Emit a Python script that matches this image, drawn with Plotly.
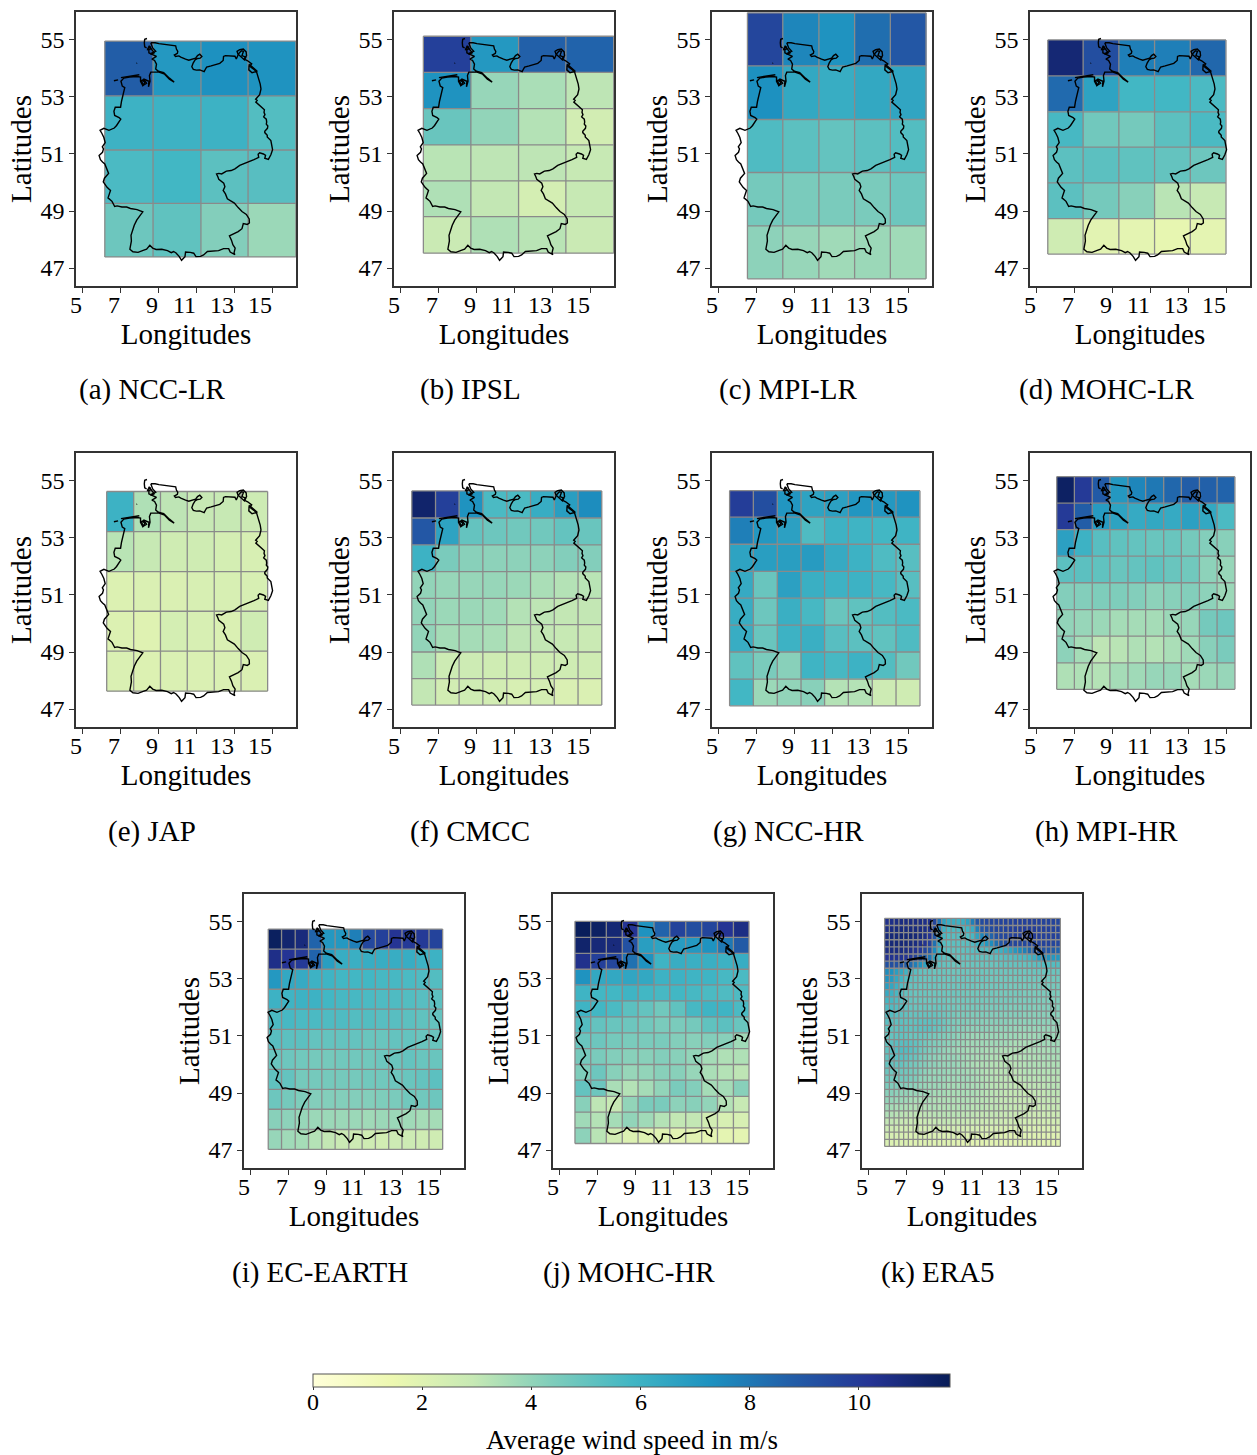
import plotly.graph_objects as go

FONT = "Liberation Serif"
COLORS = ["#ffffd9", "#edf8b1", "#c7e9b4", "#7fcdbb", "#41b6c4", "#1d91c0", "#225ea8", "#253494", "#081d58"]
COLOR_MAX = 11.67
XTICKS = [5, 7, 9, 11, 13, 15]
YTICKS = [47, 49, 51, 53, 55]
CBAR_TICKS = [0, 2, 4, 6, 8, 10]

NAMES = ["(a) NCC-LR", "(b) IPSL", "(c) MPI-LR", "(d) MOHC-LR", "(e) JAP", "(f) CMCC",
         "(g) NCC-HR", "(h) MPI-HR", "(i) EC-EARTH", "(j) MOHC-HR", "(k) ERA5"]

# cell edges (lat listed north to south) and values (rows north to south)
NCC_LR_LON = [6.2, 8.74, 11.26, 13.74, 16.26]
NCC_LR_LAT = [54.96, 53.04, 51.14, 49.27, 47.39]
NCC_LR = [[8.8, 7.0, 7.3, 7.2],
          [6.0, 6.0, 6.0, 5.4],
          [5.6, 5.8, 5.2, 5.3],
          [4.8, 5.1, 4.3, 3.8]]

IPSL_LON = [6.23, 8.73, 11.24, 13.73, 16.25]
IPSL_LAT = [55.13, 53.86, 52.59, 51.32, 50.06, 48.80, 47.52]
IPSL = [[9.8, 7.0, 8.7, 8.6],
        [7.2, 3.9, 3.5, 3.1],
        [4.9, 4.0, 3.3, 2.5],
        [3.2, 3.1, 3.1, 2.9],
        [3.4, 3.0, 2.4, 2.9],
        [2.8, 3.4, 3.2, 2.8]]

MPI_LR_LON = [6.55, 8.41, 10.31, 12.19, 14.07, 15.95]
MPI_LR_LAT = [55.95, 54.09, 52.21, 50.35, 48.48, 46.62]
MPI_LR = [[9.6, 7.6, 7.2, 8.3, 9.0],
          [7.3, 6.4, 6.2, 6.4, 6.5],
          [5.5, 5.2, 5.0, 5.2, 5.4],
          [4.6, 4.5, 4.5, 4.5, 4.8],
          [4.1, 3.9, 3.7, 3.8, 3.7]]

MOHC_LR_LON = [5.62, 7.48, 9.36, 11.24, 13.12, 15.0]
MOHC_LR_LAT = [55.0, 53.74, 52.48, 51.24, 49.99, 48.73, 47.49]
MOHC_LR = [[11.0, 9.3, 7.8, 7.8, 8.5],
           [8.4, 6.6, 5.8, 5.8, 5.6],
           [5.7, 4.7, 4.6, 5.2, 5.6],
           [5.2, 5.2, 5.1, 5.0, 4.8],
           [5.2, 4.6, 4.2, 3.2, 2.9],
           [2.6, 1.9, 1.8, 1.7, 1.8]]

JAP_LON = [6.30, 7.72, 9.13, 10.54, 11.96, 13.37, 14.77]
JAP_LAT = [54.63, 53.22, 51.82, 50.43, 49.03, 47.63]
JAP = [[6.0, 3.4, 3.1, 2.9, 2.9, 2.7],
       [3.2, 2.9, 2.6, 2.6, 2.4, 2.3],
       [2.1, 2.2, 2.2, 2.3, 2.3, 2.3],
       [2.1, 2.0, 2.4, 2.3, 2.2, 2.6],
       [2.2, 2.1, 2.2, 2.2, 2.2, 2.2]]

CMCC_LON = [5.62, 6.87, 8.11, 9.36, 10.62, 11.87, 13.12, 14.37, 15.62]
CMCC_LAT = [54.65, 53.7, 52.76, 51.82, 50.88, 49.96, 49.0, 48.07, 47.14]
CMCC = [[11.2, 9.8, 7.2, 5.6, 5.6, 6.2, 6.8, 7.4],
        [9.0, 6.6, 5.0, 4.8, 4.7, 4.7, 5.0, 4.9],
        [6.0, 4.5, 4.2, 4.1, 4.1, 4.1, 4.3, 4.3],
        [4.0, 3.9, 3.9, 3.9, 3.8, 3.5, 3.3, 3.2],
        [4.0, 3.8, 3.8, 3.7, 3.3, 3.1, 3.0, 3.0],
        [4.0, 3.6, 3.6, 3.5, 3.1, 3.0, 2.9, 2.8],
        [3.4, 2.7, 2.7, 2.6, 2.6, 2.6, 2.6, 2.6],
        [3.0, 2.5, 2.6, 2.5, 2.3, 2.4, 2.2, 2.2]]

NCC_HR_LON = [5.61, 6.86, 8.12, 9.37, 10.61, 11.86, 13.12, 14.37, 15.63]
NCC_HR_LAT = [54.66, 53.73, 52.78, 51.83, 50.89, 49.94, 49.0, 48.05, 47.11]
NCC_HR = [[9.9, 9.3, 7.1, 6.6, 6.7, 7.1, 7.0, 7.2],
          [7.8, 7.0, 6.7, 5.5, 6.0, 5.9, 5.8, 5.9],
          [6.6, 6.8, 6.8, 6.9, 6.3, 6.0, 5.5, 5.3],
          [6.3, 4.9, 6.7, 6.1, 6.0, 6.0, 5.7, 5.3],
          [6.2, 4.8, 6.1, 5.7, 4.9, 5.1, 5.4, 5.6],
          [6.2, 4.9, 6.0, 6.1, 5.3, 5.2, 5.1, 5.5],
          [5.1, 4.5, 4.2, 5.9, 5.7, 6.0, 5.4, 4.7],
          [5.8, 3.8, 4.0, 4.2, 3.3, 3.3, 2.7, 2.6]]

MPI_HR_LON = [6.09, 7.02, 7.96, 8.89, 9.84, 10.77, 11.72, 12.65, 13.6, 14.53, 15.47]
MPI_HR_LAT = [55.15, 54.22, 53.29, 52.36, 51.43, 50.49, 49.56, 48.62, 47.69]
MPI_HR = [[11.4, 10.0, 8.9, 7.0, 7.6, 8.0, 8.5, 8.8, 8.7, 8.6],
          [10.0, 8.8, 6.9, 6.6, 6.3, 6.4, 6.3, 6.7, 6.4, 5.6],
          [6.7, 6.0, 5.3, 5.1, 5.0, 4.9, 4.9, 4.6, 4.3, 4.2],
          [5.2, 5.2, 5.1, 4.9, 5.0, 5.1, 4.9, 4.7, 4.1, 3.9],
          [4.3, 4.3, 4.4, 4.4, 4.3, 4.1, 4.2, 4.3, 4.1, 3.8],
          [4.0, 3.9, 3.8, 3.6, 3.6, 3.6, 3.8, 3.9, 4.6, 4.8],
          [4.1, 3.6, 3.1, 3.2, 3.4, 3.3, 3.5, 3.7, 4.2, 4.5],
          [3.4, 3.4, 3.3, 3.6, 3.7, 3.9, 3.9, 3.6, 3.8, 3.9]]

EC_EARTH_LON = [5.96, 6.66, 7.38, 8.08, 8.78, 9.48, 10.2, 10.9, 11.6, 12.3, 13.0, 13.72, 14.42, 15.14]
EC_EARTH_LAT = [54.75, 54.05, 53.34, 52.64, 51.94, 51.23, 50.53, 49.83, 49.13, 48.43, 47.72, 47.02]
EC_EARTH = [[11.5, 11.1, 10.8, 8.6, 7.0, 7.0, 7.8, 9.5, 9.8, 10.2, 10.0, 10.0, 9.7],
            [10.5, 10.2, 10.0, 8.6, 6.8, 6.2, 6.1, 6.2, 6.2, 6.2, 6.2, 6.0, 6.0],
            [7.0, 6.4, 6.3, 6.0, 5.9, 5.8, 5.8, 5.8, 5.7, 5.7, 5.6, 5.5, 5.4],
            [6.0, 5.9, 6.0, 6.0, 5.8, 5.7, 5.7, 5.6, 5.5, 5.5, 5.4, 5.3, 5.2],
            [5.6, 5.7, 5.6, 5.6, 5.5, 5.5, 5.4, 5.4, 5.3, 5.3, 5.2, 5.1, 5.0],
            [5.3, 5.2, 5.2, 5.0, 5.0, 5.0, 5.0, 4.9, 4.9, 5.0, 5.0, 4.9, 4.9],
            [4.9, 4.8, 4.7, 4.6, 4.6, 4.7, 4.7, 4.7, 4.8, 4.9, 5.0, 4.9, 4.9],
            [5.1, 5.0, 4.6, 4.6, 4.6, 4.6, 4.6, 4.7, 4.7, 4.8, 4.9, 5.0, 5.2],
            [4.8, 4.6, 4.4, 4.3, 4.3, 4.3, 4.3, 4.3, 4.4, 4.5, 4.7, 4.7, 4.8],
            [4.2, 4.1, 3.9, 3.8, 3.8, 3.8, 3.8, 3.7, 3.8, 3.8, 3.7, 3.6, 3.6],
            [3.9, 3.7, 3.6, 3.3, 3.0, 2.8, 2.7, 2.6, 2.5, 2.7, 2.7, 2.6, 2.6]]

MOHC_HR_LON = [5.84, 6.67, 7.49, 8.33, 9.16, 10.0, 10.83, 11.67, 12.51, 13.34, 14.18, 15.0]
MOHC_HR_LAT = [55.02, 54.46, 53.9, 53.34, 52.79, 52.23, 51.67, 51.11, 50.56, 50.0, 49.45, 48.88, 48.33, 47.78, 47.23]
MOHC_HR = [[11.6, 11.4, 11.0, 10.2, 7.2, 8.6, 9.7, 9.3, 9.6, 10.2, 10.6],
           [11.2, 10.9, 10.8, 9.2, 6.8, 6.6, 6.9, 7.0, 7.2, 8.0, 8.9],
           [10.4, 9.8, 9.6, 8.2, 7.2, 5.9, 6.2, 6.1, 6.1, 6.0, 6.2],
           [7.2, 6.4, 6.4, 6.5, 6.4, 6.0, 6.0, 5.9, 5.9, 5.7, 5.6],
           [5.9, 5.8, 5.8, 5.9, 5.8, 5.7, 5.8, 5.7, 5.6, 5.5, 5.5],
           [5.9, 5.8, 5.6, 5.2, 5.0, 4.7, 5.1, 5.7, 5.9, 5.9, 5.6],
           [5.4, 5.0, 4.9, 4.8, 4.7, 4.5, 4.5, 4.6, 5.1, 5.2, 4.9],
           [4.9, 4.8, 4.6, 4.5, 4.5, 4.5, 4.3, 4.2, 4.3, 4.2, 3.7],
           [4.6, 4.5, 4.3, 4.2, 4.2, 4.3, 4.2, 4.0, 3.6, 3.4, 3.4],
           [4.4, 4.8, 4.2, 3.9, 4.0, 4.2, 4.2, 3.9, 3.5, 3.3, 3.1],
           [5.0, 4.8, 3.5, 3.3, 3.6, 4.0, 4.5, 4.3, 3.6, 3.6, 4.2],
           [4.2, 3.1, 2.9, 4.0, 4.5, 4.5, 4.1, 4.2, 4.0, 3.3, 2.9],
           [3.7, 3.3, 3.6, 4.0, 3.7, 3.3, 3.0, 3.0, 2.5, 2.3, 2.3],
           [4.1, 3.2, 2.5, 2.1, 2.0, 2.0, 1.9, 1.9, 1.8, 1.8, 1.8]]

ERA5_LON = [5.875, 6.125, 6.375, 6.625, 6.875, 7.125, 7.375, 7.625, 7.875, 8.125, 8.375, 8.625, 8.875,
            9.125, 9.375, 9.625, 9.875, 10.125, 10.375, 10.625, 10.875, 11.125, 11.375, 11.625, 11.875,
            12.125, 12.375, 12.625, 12.875, 13.125, 13.375, 13.625, 13.875, 14.125, 14.375, 14.625, 14.875, 15.125]
ERA5_LAT = [55.125, 54.875, 54.625, 54.375, 54.125, 53.875, 53.625, 53.375, 53.125, 52.875, 52.625,
            52.375, 52.125, 51.875, 51.625, 51.375, 51.125, 50.875, 50.625, 50.375, 50.125, 49.875,
            49.625, 49.375, 49.125, 48.875, 48.625, 48.375, 48.125, 47.875, 47.625, 47.375, 47.125]
ERA5 = [
 [10.4,10.5,10.6,10.7,10.7,10.7,10.7,10.6,10.5,10.3,9.6,8.2,6.6,6.2,6.1,6.0,6.1,6.6,7.8,9.0,9.4,9.5,9.6,9.6,9.7,9.7,9.7,9.8,9.8,9.8,9.8,9.8,9.8,9.7,9.7,9.7,9.6],
 [10.6,10.7,10.8,10.8,10.8,10.8,10.8,10.7,10.6,10.4,9.4,7.6,6.0,5.6,5.5,5.5,5.6,5.8,6.2,7.8,9.0,9.2,9.4,9.6,9.6,9.7,9.8,9.8,9.9,9.9,9.9,9.9,9.8,9.8,9.8,9.7,9.7],
 [10.8,10.9,10.9,11.0,11.0,11.0,10.9,10.8,10.6,10.2,9.0,7.0,5.7,5.4,5.3,5.3,5.3,5.4,5.7,6.6,7.6,8.2,8.6,9.2,9.5,9.6,9.7,9.8,9.8,9.9,9.9,9.9,9.9,9.8,9.8,9.8,9.7],
 [10.8,10.9,10.9,10.9,10.9,10.8,10.7,10.5,10.3,9.8,8.2,6.4,5.4,5.2,5.2,5.2,5.2,5.3,5.5,5.9,6.4,7.0,7.4,8.2,9.0,9.3,9.5,9.6,9.6,9.5,9.5,9.6,9.7,9.7,9.7,9.6,9.5],
 [10.6,10.7,10.7,10.7,10.6,10.5,10.3,10.0,9.6,9.0,7.4,5.9,5.3,5.2,5.1,5.1,5.1,5.2,5.3,5.4,5.5,5.5,5.6,5.8,6.0,6.3,6.6,7.0,7.4,7.8,8.4,8.8,9.0,9.1,9.0,8.8,8.6],
 [10.2,10.3,10.3,10.3,10.2,10.0,9.6,9.0,8.6,8.0,6.6,5.6,5.2,5.1,5.0,5.0,5.0,5.0,5.1,5.1,5.1,5.1,5.2,5.2,5.2,5.3,5.3,5.4,5.5,5.6,5.8,6.2,6.8,7.4,7.2,7.0,7.0],
 [9.2,9.3,9.2,9.0,8.8,8.4,7.8,7.2,6.6,6.0,5.5,5.2,5.0,5.0,4.9,4.9,4.9,4.9,4.9,4.9,4.9,4.9,4.9,4.9,5.0,5.0,5.0,5.0,5.0,5.0,5.1,5.2,5.3,5.4,5.4,5.4,5.4],
 [7.4,7.2,6.8,6.4,5.9,5.5,5.3,5.1,5.0,5.0,4.9,4.9,4.9,4.8,4.8,4.8,4.8,4.8,4.8,4.8,4.8,4.8,4.8,4.8,4.8,4.8,4.8,4.8,4.8,4.8,4.8,4.9,4.9,4.9,4.9,4.9,4.9],
 [7.2,6.9,6.4,5.9,5.4,5.2,5.1,5.0,4.9,4.9,4.9,4.9,4.8,4.8,4.8,4.8,4.8,4.8,4.8,4.8,4.8,4.8,4.7,4.7,4.7,4.7,4.7,4.7,4.7,4.7,4.7,4.7,4.7,4.7,4.7,4.7,4.7],
 [6.8,6.4,6.0,5.5,5.2,5.0,5.0,4.9,4.9,4.9,4.9,4.8,4.8,4.8,4.8,4.8,4.8,4.8,4.8,4.7,4.7,4.7,4.7,4.7,4.7,4.7,4.6,4.6,4.6,4.6,4.6,4.6,4.6,4.6,4.6,4.6,4.6],
 [6.3,6.0,5.7,5.3,5.1,5.0,4.9,4.9,4.9,4.8,4.8,4.8,4.8,4.8,4.8,4.8,4.7,4.7,4.7,4.7,4.7,4.7,4.7,4.6,4.6,4.6,4.6,4.6,4.6,4.5,4.5,4.5,4.5,4.5,4.5,4.5,4.5],
 [5.8,5.7,5.5,5.3,5.1,5.0,4.9,4.9,4.8,4.8,4.8,4.8,4.8,4.7,4.7,4.7,4.7,4.7,4.7,4.7,4.6,4.6,4.6,4.6,4.6,4.6,4.6,4.5,4.5,4.5,4.5,4.5,4.4,4.4,4.4,4.4,4.4],
 [5.6,5.5,5.4,5.3,5.2,5.0,4.9,4.9,4.9,4.8,4.9,4.9,4.8,4.7,4.7,4.6,4.6,4.6,4.6,4.6,4.5,4.5,4.5,4.5,4.5,4.5,4.4,4.4,4.4,4.4,4.4,4.3,4.3,4.3,4.3,4.3,4.3],
 [5.5,5.4,5.3,5.2,5.1,5.0,5.0,5.0,5.0,5.0,5.0,4.9,4.8,4.7,4.6,4.5,4.5,4.5,4.4,4.4,4.4,4.4,4.3,4.3,4.3,4.3,4.3,4.3,4.3,4.2,4.2,4.2,4.2,4.2,4.2,4.2,4.2],
 [5.3,5.2,5.2,5.2,5.1,5.1,5.1,5.2,5.2,5.2,5.1,5.0,4.8,4.6,4.5,4.4,4.4,4.3,4.3,4.3,4.2,4.2,4.2,4.2,4.2,4.2,4.1,4.1,4.1,4.1,4.1,4.1,4.1,4.1,4.1,4.0,4.0],
 [5.1,5.1,5.1,5.2,5.1,5.1,5.1,5.2,5.2,5.2,5.0,4.9,4.7,4.5,4.4,4.3,4.2,4.1,4.1,4.1,4.1,4.1,4.0,4.0,4.0,4.0,4.0,3.9,3.9,3.9,3.9,3.9,3.9,3.9,3.9,3.9,3.9],
 [5.0,5.0,5.1,5.1,5.0,4.9,4.9,4.9,4.8,4.7,4.6,4.5,4.4,4.3,4.2,4.1,4.0,3.9,3.8,3.8,3.8,3.8,3.8,3.8,3.8,3.8,3.8,3.8,3.7,3.7,3.7,3.7,3.8,3.8,3.8,3.8,3.8],
 [5.1,5.2,5.3,5.3,5.3,5.2,5.1,4.9,4.7,4.5,4.4,4.3,4.2,4.1,4.0,3.9,3.8,3.7,3.7,3.7,3.7,3.7,3.7,3.7,3.7,3.7,3.6,3.5,3.5,3.5,3.5,3.6,3.6,3.7,3.7,3.7,3.7],
 [5.1,5.3,5.4,5.5,5.4,5.3,5.1,4.8,4.6,4.4,4.3,4.2,4.0,3.9,3.8,3.7,3.7,3.6,3.6,3.6,3.6,3.5,3.5,3.5,3.4,3.4,3.4,3.4,3.4,3.4,3.4,3.5,3.5,3.5,3.5,3.6,3.6],
 [5.1,5.2,5.3,5.3,5.2,5.0,4.9,4.6,4.4,4.2,4.1,4.0,3.9,3.9,3.9,3.8,3.7,3.6,3.6,3.5,3.5,3.5,3.4,3.4,3.3,3.3,3.3,3.3,3.3,3.4,3.4,3.4,3.4,3.5,3.5,3.5,3.5],
 [5.0,5.0,5.0,5.0,4.8,4.7,4.6,4.4,4.3,4.1,4.1,4.0,3.9,3.9,3.9,3.8,3.7,3.6,3.5,3.4,3.4,3.4,3.3,3.3,3.2,3.2,3.2,3.2,3.3,3.3,3.4,3.4,3.4,3.4,3.4,3.4,3.4],
 [4.9,4.8,4.8,4.8,4.7,4.6,4.5,4.3,4.1,4.0,3.9,3.9,3.9,3.8,3.8,3.7,3.7,3.6,3.6,3.5,3.4,3.3,3.3,3.2,3.2,3.2,3.1,3.1,3.2,3.3,3.3,3.3,3.3,3.3,3.3,3.3,3.3],
 [4.7,4.7,4.7,4.7,4.6,4.5,4.4,4.1,4.0,3.9,3.9,3.9,3.8,3.7,3.7,3.7,3.7,3.7,3.6,3.5,3.4,3.3,3.3,3.2,3.2,3.1,3.1,3.1,3.1,3.2,3.2,3.2,3.2,3.2,3.2,3.2,3.2],
 [4.5,4.4,4.4,4.3,4.3,4.2,4.1,4.0,3.9,3.8,3.8,3.8,3.7,3.6,3.6,3.6,3.6,3.6,3.5,3.5,3.4,3.3,3.2,3.2,3.1,3.1,3.1,3.0,3.0,3.0,3.1,3.1,3.1,3.1,3.2,3.2,3.2],
 [4.2,4.2,4.1,4.0,4.0,3.9,3.9,3.8,3.8,3.7,3.6,3.6,3.6,3.5,3.5,3.5,3.5,3.5,3.5,3.4,3.3,3.2,3.2,3.1,3.1,3.0,3.0,3.0,3.0,2.9,2.9,3.0,3.0,3.0,3.1,3.1,3.1],
 [4.0,3.9,3.8,3.8,3.7,3.6,3.5,3.5,3.5,3.5,3.4,3.4,3.4,3.4,3.4,3.4,3.4,3.4,3.3,3.3,3.2,3.2,3.1,3.1,3.0,3.0,3.0,2.9,2.9,2.9,2.9,2.9,2.9,3.0,3.0,3.0,3.0],
 [3.7,3.6,3.5,3.5,3.4,3.4,3.3,3.3,3.3,3.4,3.4,3.3,3.3,3.3,3.3,3.3,3.3,3.3,3.2,3.2,3.2,3.1,3.1,3.1,3.0,3.0,3.0,2.9,2.9,2.9,2.8,2.8,2.8,2.8,2.9,2.9,2.9],
 [3.4,3.3,3.2,3.2,3.1,3.1,3.1,3.0,3.1,3.1,3.2,3.2,3.2,3.2,3.2,3.2,3.1,3.1,3.1,3.0,3.0,3.0,3.0,3.0,2.9,2.9,2.9,2.8,2.8,2.8,2.7,2.7,2.7,2.7,2.7,2.7,2.7],
 [3.0,3.0,2.9,2.9,2.8,2.8,2.8,2.7,2.8,2.8,2.9,2.9,3.0,3.0,2.9,2.9,2.9,2.8,2.8,2.8,2.7,2.7,2.7,2.7,2.7,2.6,2.6,2.6,2.6,2.5,2.5,2.5,2.5,2.5,2.5,2.5,2.5],
 [2.7,2.6,2.6,2.5,2.5,2.5,2.4,2.4,2.4,2.5,2.5,2.5,2.5,2.5,2.5,2.5,2.4,2.4,2.4,2.4,2.3,2.3,2.3,2.3,2.3,2.3,2.3,2.3,2.2,2.2,2.2,2.2,2.2,2.2,2.2,2.2,2.2],
 [2.4,2.3,2.3,2.3,2.2,2.2,2.2,2.2,2.2,2.2,2.2,2.2,2.2,2.2,2.2,2.1,2.1,2.1,2.1,2.1,2.1,2.1,2.1,2.1,2.0,2.0,2.0,2.0,2.0,2.0,2.0,2.0,2.0,2.0,2.0,2.0,2.0],
 [2.2,2.1,2.1,2.1,2.1,2.0,2.0,2.0,2.0,2.0,2.0,2.0,2.0,2.0,2.0,1.9,1.9,1.9,1.9,1.9,1.9,1.9,1.9,1.9,1.9,1.9,1.9,1.9,1.9,1.9,1.9,1.9,1.9,1.9,1.9,1.9,1.9],
]

# Outline, (lon, lat); None separates the separate pieces
GERMANY = [
 (8.62,54.90),(8.85,54.90),(9.05,54.87),(9.25,54.85),(9.45,54.83),(9.62,54.82),(9.78,54.80),(9.93,54.79),(9.97,54.68),(10.04,54.60),
 (10.02,54.53),(9.86,54.47),(9.92,54.42),(10.10,54.44),(10.20,54.40),(10.30,54.36),(10.45,54.33),(10.62,54.29),(10.80,54.32),(10.98,54.36),
 (11.08,54.45),(11.20,54.50),(11.31,54.42),(11.22,54.36),(11.08,54.35),(10.95,54.30),(10.85,54.19),(10.78,54.06),(10.86,53.97),(11.02,53.94),
 (11.20,53.95),(11.43,53.89),(11.50,53.98),(11.56,54.05),(11.80,54.09),(12.02,54.14),(12.25,54.18),(12.43,54.28),(12.45,54.42),(12.55,54.45),
 (12.80,54.43),(13.05,54.43),(13.12,54.33),(13.22,54.48),(13.16,54.60),(13.30,54.66),(13.49,54.68),(13.64,54.58),(13.66,54.45),(13.53,54.33),
 (13.72,54.27),(13.93,54.16),(13.82,54.08),(14.05,53.97),(14.19,53.87),(14.27,53.72),(14.38,53.45),(14.42,53.28),(14.35,53.08),(14.14,52.92),
 (14.22,52.88),(14.15,52.82),(14.30,52.74),(14.38,52.68),(14.52,52.62),(14.60,52.55),(14.58,52.46),(14.63,52.38),(14.56,52.30),(14.70,52.22),
 (14.72,52.12),(14.70,52.05),(14.78,51.98),(14.76,51.90),(14.62,51.80),(14.62,51.75),(14.75,51.66),(14.75,51.60),(14.94,51.47),
 (15.00,51.30),(15.03,51.15),(14.94,50.97),(14.81,50.81),(14.62,50.85),(14.66,50.95),(14.55,51.00),(14.35,51.04),(14.27,50.99),(14.30,50.88),
 (14.05,50.80),(13.75,50.71),(13.50,50.66),(13.30,50.60),(13.05,50.48),(12.85,50.42),(12.60,50.40),(12.35,50.30),(12.20,50.32),(12.08,50.30),
 (12.15,50.20),(12.20,50.11),(12.46,49.98),(12.52,49.85),(12.43,49.72),(12.55,49.60),(12.65,49.43),(12.82,49.35),(13.02,49.28),(13.22,49.12),
 (13.42,48.98),(13.65,48.88),(13.80,48.72),(13.81,48.58),(13.70,48.53),(13.49,48.56),(13.42,48.38),(13.22,48.28),(12.95,48.20),(12.76,48.13),
 (12.87,47.97),(12.94,47.82),(13.06,47.70),(13.00,47.52),(13.05,47.47),(12.80,47.56),(12.72,47.68),(12.45,47.68),(12.19,47.61),(11.85,47.59),
 (11.60,47.58),(11.40,47.46),(11.24,47.41),(11.00,47.40),(10.88,47.52),(10.70,47.55),(10.45,47.56),(10.42,47.40),(10.24,47.27),(10.12,47.40),
 (9.95,47.53),(9.82,47.58),(9.70,47.54),(9.50,47.61),(9.20,47.66),(8.90,47.65),(8.72,47.70),(8.57,47.80),(8.40,47.66),(8.22,47.62),(7.95,47.55),
 (7.68,47.57),(7.52,47.66),(7.60,47.95),(7.58,48.15),(7.75,48.50),(7.88,48.68),(8.10,48.88),(8.20,48.97),(7.90,49.05),(7.55,49.09),
 (7.35,49.14),(7.10,49.14),(6.85,49.18),(6.72,49.16),(6.58,49.34),(6.37,49.46),(6.50,49.72),(6.32,49.83),(6.12,50.02),(6.18,50.15),
 (6.40,50.32),(6.27,50.50),(6.20,50.65),(6.08,50.72),(5.97,50.80),(5.90,50.95),(6.08,51.06),(6.13,51.18),(6.07,51.25),(6.22,51.40),
 (6.15,51.58),(6.05,51.72),(5.95,51.83),(6.15,51.90),(6.42,51.83),(6.70,51.91),(6.82,52.00),(7.04,52.22),(6.95,52.28),(6.72,52.35),
 (6.68,52.50),(6.75,52.64),(7.03,52.64),(7.08,52.85),(7.21,53.20),(7.25,53.33),(7.12,53.38),(7.05,53.55),(7.20,53.66),(7.50,53.70),
 (7.90,53.72),(8.08,53.70),(8.08,53.55),(8.20,53.40),(8.32,53.52),(8.18,53.58),(8.26,53.63),(8.52,53.55),(8.50,53.36),(8.58,53.55),
 (8.55,53.75),(8.62,53.87),(9.05,53.87),(9.35,53.80),(9.60,53.62),(9.85,53.52),(9.60,53.66),(9.30,53.85),(9.02,53.90),(8.88,53.98),
 (8.92,54.15),(8.82,54.28),(8.68,54.33),(8.92,54.42),(8.60,54.52),(8.88,54.60),(8.72,54.72),(8.62,54.90),None,None,
 (8.42,55.05),(8.30,55.02),(8.28,54.90),(8.30,54.76),(8.40,54.72),None,None,
 (8.45,54.70),(8.58,54.76),(8.62,54.68),(8.45,54.66),(8.45,54.70),None,None,
 (6.68,53.57),(6.90,53.60),None,None,(7.05,53.68),(7.55,53.74),(8.02,53.78),None,None,(7.87,54.18),(7.90,54.19),None,None,
 (8.10,53.58),(8.24,53.42),(8.40,53.48),(8.30,53.58),(8.10,53.58),None,None,
 (8.52,54.80),(8.72,54.62),(8.80,54.55),(8.66,54.50),(8.52,54.55),(8.52,54.80),None,None,
 (13.22,54.50),(13.38,54.62),(13.50,54.60),(13.42,54.45),(13.62,54.40),(13.55,54.30),(13.22,54.50),None,None,
 (13.80,54.15),(14.10,53.95),(14.22,53.90),(13.95,53.85),(13.78,53.95),(13.80,54.15),
]
GERMANY_LON = [p[0] if p else None for p in GERMANY]
GERMANY_LAT = [p[1] if p else None for p in GERMANY]

PANELS = [
    (NCC_LR_LON, NCC_LR_LAT, NCC_LR), (IPSL_LON, IPSL_LAT, IPSL), (MPI_LR_LON, MPI_LR_LAT, MPI_LR),
    (MOHC_LR_LON, MOHC_LR_LAT, MOHC_LR), (JAP_LON, JAP_LAT, JAP), (CMCC_LON, CMCC_LAT, CMCC),
    (NCC_HR_LON, NCC_HR_LAT, NCC_HR), (MPI_HR_LON, MPI_HR_LAT, MPI_HR),
    (EC_EARTH_LON, EC_EARTH_LAT, EC_EARTH), (MOHC_HR_LON, MOHC_HR_LAT, MOHC_HR), (ERA5_LON, ERA5_LAT, ERA5),
]
W, H = 1257, 1455
BOX_W, BOX_H = 220, 274
BOXES = [(76, 12), (394, 12), (712, 12), (1030, 12), (76, 453), (394, 453), (712, 453), (1030, 453),
         (244, 894), (553, 894), (862, 894)]
CAP_X = [152, 470, 788, 1106, 152, 470, 788, 1106, 320, 629, 938]
CAP_Y = [390, 390, 390, 390, 831, 831, 831, 831, 1272, 1272, 1272]
BAR_LEFT, BAR_LEN = 313, 637

colorscale = [[i / (len(COLORS) - 1), c] for i, c in enumerate(COLORS)]
fig = go.Figure()
annotations = []
layout = {}
text_font = dict(family=FONT, size=24, color="black")
title_font = dict(family=FONT, size=29, color="black")
for i, (lon, lat, vals) in enumerate(PANELS):
    n = i + 1
    sx = "" if n == 1 else str(n)
    xa, ya = "x" + sx, "y" + sx
    fig.add_trace(go.Heatmap(x=lon, y=lat[::-1], z=vals[::-1], coloraxis="coloraxis", xaxis=xa, yaxis=ya,
                             hoverinfo="skip"))
    gx, gy = [], []
    for e in lon:
        gx += [e, e, None]; gy += [lat[-1], lat[0], None]
    for e in lat:
        gx += [lon[0], lon[-1], None]; gy += [e, e, None]
    fig.add_trace(go.Scatter(x=gx, y=gy, mode="lines", line=dict(color="#8a8a8a", width=1.3),
                             xaxis=xa, yaxis=ya, showlegend=False, hoverinfo="skip"))
    fig.add_trace(go.Scatter(x=GERMANY_LON, y=GERMANY_LAT, mode="lines", line=dict(color="black", width=1.4),
                             xaxis=xa, yaxis=ya, showlegend=False, hoverinfo="skip"))
    left, top = BOXES[i]
    common = dict(showline=True, mirror=True, linecolor="#333333", linewidth=1.5, ticks="outside", ticklen=5,
                  tickwidth=1, tickcolor="#333333", showgrid=False, zeroline=False, automargin=False)
    layout["xaxis" + sx] = dict(common, domain=[left / W, (left + BOX_W) / W], range=[4.684, 16.263], anchor=ya,
                                tickmode="array", tickvals=XTICKS, showticklabels=False,
                                title=dict(text="Longitudes", font=title_font, standoff=32))
    layout["yaxis" + sx] = dict(common, domain=[1 - (top + BOX_H) / H, 1 - top / H], range=[46.37, 55.98], anchor=xa,
                                tickmode="array", tickvals=YTICKS, ticktext=[str(t) for t in YTICKS], tickfont=text_font,
                                title=dict(text="Latitudes", font=title_font, standoff=0))
    # longitude labels end at their tick in the reference
    for t in XTICKS:
        annotations.append(dict(text=str(t), x=t, xref=xa, y=0, yref=ya + " domain", xanchor="right", yanchor="top",
                                xshift=2, yshift=-4, showarrow=False, font=text_font))
    annotations.append(dict(text=NAMES[i], x=CAP_X[i] / W, y=1 - CAP_Y[i] / H, xref="paper", yref="paper",
                            showarrow=False, xanchor="center", yanchor="middle", font=title_font))

for t in CBAR_TICKS:
    annotations.append(dict(text=str(t), x=(BAR_LEFT + BAR_LEN * t / COLOR_MAX) / W, y=1 - 1402 / H,
                            xref="paper", yref="paper", showarrow=False, xanchor="center", yanchor="middle",
                            font=text_font))
annotations.append(dict(text="Average wind speed in m/s", x=632 / W, y=1 - 1440 / H, xref="paper", yref="paper",
                        showarrow=False, xanchor="center", yanchor="middle",
                        font=dict(family=FONT, size=27, color="black")))

fig.update_layout(
    width=W, height=H, autosize=False, margin=dict(l=0, r=0, t=0, b=0, autoexpand=False),
    paper_bgcolor="white", plot_bgcolor="white", showlegend=False, annotations=annotations,
    coloraxis=dict(cmin=0, cmax=COLOR_MAX, colorscale=colorscale,
                   colorbar=dict(orientation="h", lenmode="pixels", len=BAR_LEN, thicknessmode="pixels", thickness=13,
                                 x=(BAR_LEFT + BAR_LEN / 2) / W, xanchor="center", y=1 - 1374 / H, yanchor="top",
                                 xpad=0, ypad=0, outlinecolor="#555555", outlinewidth=1, ticks="outside", ticklen=3,
                                 tickcolor="#333333", tickmode="array", tickvals=CBAR_TICKS, showticklabels=False)),
    **layout,
)
fig.write_html("out.html", post_script="document.body.style.margin='0';", config={"displayModeBar": False})
